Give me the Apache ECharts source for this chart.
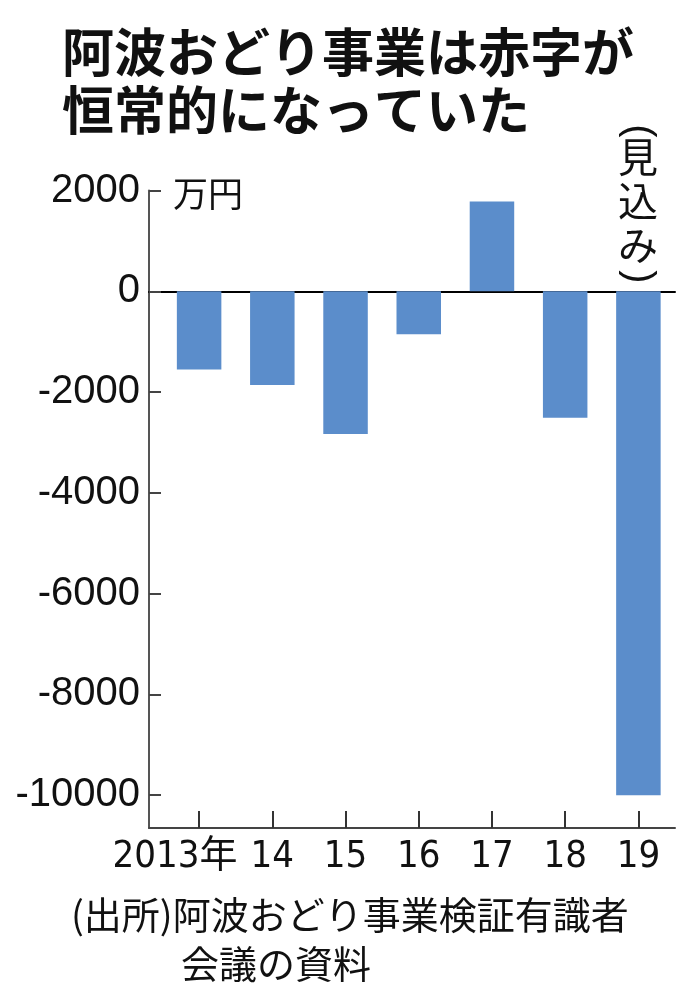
<!DOCTYPE html>
<html>
<head>
<meta charset="utf-8">
<script src="https://cdn.jsdelivr.net/npm/echarts@6/dist/echarts.min.js"></script>
<style>
html,body{margin:0;padding:0;background:#fff;}
#chart{width:696px;height:1005px;}
</style>
</head>
<body>
<div id="chart"></div>
<script>
var categories = ['2013年', '14', '15', '16', '17', '18', '19'];
var values = [-1550, -1860, -2830, -850, 1780, -2510, -10000];
var yTickValues = [-10000, -8000, -6000, -4000, -2000, 0, 2000];
var titleText = '阿波おどり事業は赤字が\n恒常的になっていた';
var unitText = '万円';
var noteLine1 = '(出所)阿波おどり事業検証有識者';
var noteLine2 = '会議の資料';
var estimateChars = ['見', '込', 'み'];

var yMin = -10650, yMax = 2000;
var CJK = '"Noto Sans CJK JP", "Noto Sans", sans-serif';
var NUM = '"Liberation Sans", Arial, sans-serif';
var NARROW = '"Liberation Sans Narrow", "Arial Narrow", "DejaVu Sans Condensed", "Noto Sans CJK JP", sans-serif';

var chart = echarts.init(document.getElementById('chart'), null, {renderer: 'canvas'});
chart.setOption({
  backgroundColor: '#ffffff',
  animation: false,
  title: [
    {text: titleText, left: 57, top: 18,
     textStyle: {fontFamily: CJK, fontSize: 52, fontWeight: 'bold', lineHeight: 58, color: '#111'}},
    {text: unitText, left: 168, top: 171,
     textStyle: {fontFamily: CJK, fontSize: 35, fontWeight: 'normal', color: '#111'}},
    {text: noteLine1, left: 66, top: 891,
     textStyle: {fontFamily: CJK, fontSize: 38, fontWeight: 'normal', color: '#111'}},
    {text: noteLine2, left: 176, top: 940,
     textStyle: {fontFamily: CJK, fontSize: 38, fontWeight: 'normal', color: '#111'}}
  ],
  graphic: [
    {type: 'text', x: 638, y: 135, silent: true,
     style: {text: estimateChars.join('\n'), font: 'normal 40px ' + CJK, lineHeight: 44,
             textAlign: 'center', textVerticalAlign: 'top', fill: '#111'}},
    {type: 'group', x: 638, y: 131, rotation: -Math.PI / 2, silent: true,
     children: [{type: 'text', x: 0, y: 0,
       style: {text: '(', font: 'normal 40px ' + NUM, textAlign: 'center', textVerticalAlign: 'middle', fill: '#111'}}]},
    {type: 'group', x: 638, y: 277, rotation: -Math.PI / 2, silent: true,
     children: [{type: 'text', x: 0, y: 0,
       style: {text: ')', font: 'normal 40px ' + NUM, textAlign: 'center', textVerticalAlign: 'middle', fill: '#111'}}]}
  ],
  grid: [
    {left: 149, right: 21, top: 190.5, bottom: 177, containLabel: false},
    {left: 162.5, right: 21, top: 190.5, bottom: 177, containLabel: false}
  ],
  xAxis: [
    {gridIndex: 0, type: 'value', min: 0, max: 1, position: 'bottom',
     axisLine: {show: true, onZero: false, lineStyle: {color: '#444', width: 2}},
     axisTick: {show: false}, axisLabel: {show: false}, splitLine: {show: false}},
    {gridIndex: 0, type: 'value', min: 0, max: 1, position: 'top',
     axisLine: {show: true, onZero: true, lineStyle: {color: '#000', width: 2}},
     axisTick: {show: false}, axisLabel: {show: false}, splitLine: {show: false}},
    {gridIndex: 1, type: 'category', data: categories, boundaryGap: true,
     axisLine: {show: false, onZero: false},
     axisTick: {show: true, inside: true, length: 17, alignWithLabel: true, interval: 0, lineStyle: {color: '#333', width: 2}},
     axisLabel: {show: true, interval: 0, hideOverlap: false, margin: 10, fontFamily: NARROW, fontSize: 38, color: '#111',
       formatter: function (v, i) { return i === 0 ? '{a|' + v + '}' : v; },
       rich: {a: {fontFamily: NARROW, fontSize: 38, color: '#111', padding: [0, 48, 0, 0]}}},
     splitLine: {show: false}}
  ],
  yAxis: [
    {gridIndex: 0, type: 'value', min: yMin, max: yMax,
     axisLine: {show: true, onZero: false, lineStyle: {color: '#555', width: 2}},
     axisTick: {show: true, inside: true, length: 12, customValues: yTickValues, lineStyle: {color: '#444', width: 2}},
     axisLabel: {show: true, margin: 9, customValues: yTickValues, fontFamily: NUM, fontSize: 40, color: '#111',
       formatter: function (v) { return String(v); }},
     splitLine: {show: false}},
    {gridIndex: 1, type: 'value', min: yMin, max: yMax, show: false}
  ],
  series: [
    {type: 'bar', xAxisIndex: 2, yAxisIndex: 1, data: values, barWidth: 44.5,
     itemStyle: {color: '#5b8dcb'}, silent: true, z: 1}
  ]
});
</script>
</body>
</html>
